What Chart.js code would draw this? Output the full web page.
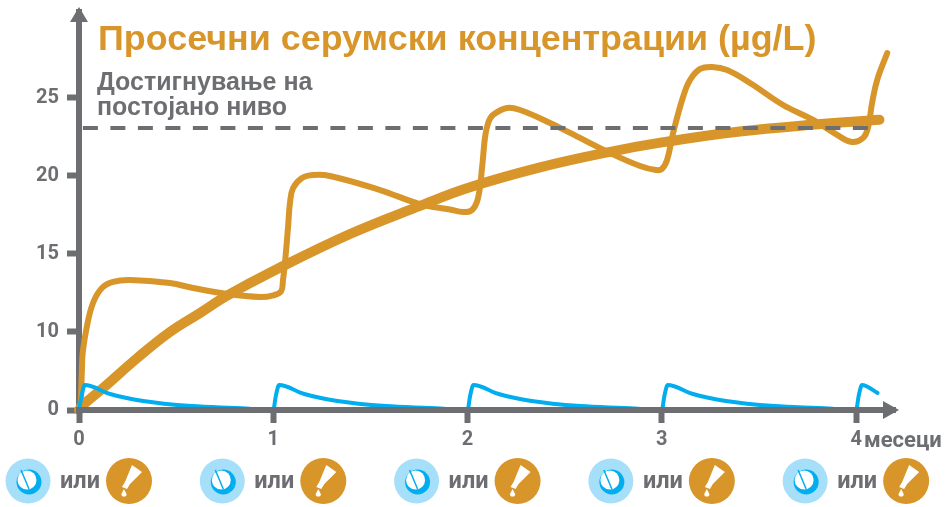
<!DOCTYPE html>
<html>
<head>
<meta charset="utf-8">
<style>
  html, body { margin: 0; padding: 0; background: #fff; }
  #wrap { width: 949px; height: 507px; }
</style>
<script src="https://cdn.jsdelivr.net/npm/chart.js@4"></script>
</head>
<body>
<div id="wrap"><canvas id="chart" width="949" height="507"></canvas></div>
<script>
const titleText = "Просечни серумски концентрации (µg/L)";
const noteLines = ["Достигнување на", "постојано ниво"];
const unitText = "месеци";
const orText = "или";

const monthTicks = [0, 1, 2, 3, 4];
const valueTicks = [0, 10, 15, 20, 25];
const plateau = 23.08;

// thick line, average level
const avgMonths = [0, 0.02, 0.124, 0.3, 0.468, 0.623, 0.76, 1, 1.395, 1.755, 2, 2.373, 2.734, 3, 3.4, 3.79, 4.12];
const avgValues = [0, 0.64, 2.82, 6.67, 10, 11.22, 12.31, 13.91, 16.28, 18.08, 19.23, 20.55, 21.55, 22.15, 22.85, 23.3, 23.6];

// thin orange line
const depotMonths = [0, 0.008, 0.015, 0.019, 0.04, 0.072, 0.118, 0.175, 0.263, 0.468, 0.587, 0.762, 0.932, 1, 1.04, 1.05, 1.06, 1.076, 1.086, 1.102, 1.148, 1.205, 1.292, 1.55, 1.755, 1.91, 1.977, 2.023, 2.054, 2.075, 2.09, 2.106, 2.131, 2.203, 2.27, 2.425, 2.528, 2.734, 2.888, 2.97, 3, 3.027, 3.058, 3.109, 3.145, 3.197, 3.259, 3.336, 3.454, 3.624, 3.779, 3.902, 3.979, 4.036, 4.062, 4.082, 4.108, 4.16];
const depotValues = [0, 0.64, 5.13, 7.31, 10.32, 11.86, 12.82, 13.21, 13.33, 13.14, 12.82, 12.44, 12.24, 12.35, 12.6, 13.33, 14.42, 16.73, 18.27, 19.23, 19.87, 20.06, 20, 19.1, 18.2, 17.85, 17.69, 17.82, 18.59, 20.58, 22.5, 23.4, 23.91, 24.36, 24.23, 23.4, 22.76, 21.47, 20.64, 20.38, 20.45, 21.03, 22.76, 25.06, 26.15, 26.86, 26.99, 26.79, 25.96, 24.55, 23.59, 22.63, 22.18, 22.44, 23.14, 24.68, 26.15, 27.88];

// blue line, one decay per month
const bluePeakMonths = [0, 0.013, 0.03, 0.16, 0.33, 0.58, 0.86, 0.96, 1, 1.013, 1.03, 1.16, 1.33, 1.58, 1.86, 1.96, 2, 2.013, 2.03, 2.16, 2.33, 2.58, 2.86, 2.96, 3, 3.013, 3.03, 3.16, 3.33, 3.58, 3.86, 3.96, 4, 4.013, 4.03, 4.11];
const bluePeakValues = [0, 1.8, 3.2, 2.05, 1.15, 0.5, 0.2, 0, 0, 1.8, 3.2, 2.05, 1.15, 0.5, 0.2, 0, 0, 1.8, 3.2, 2.05, 1.15, 0.5, 0.2, 0, 0, 1.8, 3.2, 2.05, 1.15, 0.5, 0.2, 0, 0, 1.8, 3.2, 2.2];

const plateauMonths = [0.02, 4.12];

const gray = "#6d6e71";
const orange = "#d8962a";
const blue = "#00aeef";
const lightBlue = "#a6dff9";

// the printed axis has 0-10 squeezed into one step, the rest is 5 per step
function toAxis(v) {
  return v <= 10 ? v / 2 : v - 5;
}

function series(months, values) {
  return months.map((m, i) => ({ x: m, y: toAxis(values[i]) }));
}

function drawPill(ctx, cx, cy) {
  ctx.fillStyle = lightBlue;
  ctx.beginPath(); ctx.arc(cx, cy, 22.5, 0, Math.PI * 2); ctx.fill();
  ctx.fillStyle = blue;
  ctx.beginPath(); ctx.arc(cx + 1, cy + 1, 12.5, 0, Math.PI * 2); ctx.fill();
  ctx.fillStyle = "#fff";
  ctx.beginPath(); ctx.arc(cx - 1, cy - 1, 9.5, 0, Math.PI * 2); ctx.fill();
  ctx.strokeStyle = blue;
  ctx.lineWidth = 1.5;
  ctx.beginPath(); ctx.moveTo(cx - 7, cy - 11); ctx.lineTo(cx + 1, cy + 8); ctx.stroke();
}

function drawTube(ctx, cx, cy) {
  ctx.fillStyle = orange;
  ctx.beginPath(); ctx.arc(cx, cy, 23, 0, Math.PI * 2); ctx.fill();
  ctx.fillStyle = "#fff";
  ctx.beginPath();
  ctx.moveTo(cx + 3, cy - 16);
  ctx.lineTo(cx + 13, cy - 9);
  ctx.lineTo(cx + 1, cy + 3);
  ctx.lineTo(cx - 2, cy + 8);
  ctx.lineTo(cx - 7, cy + 6);
  ctx.lineTo(cx - 4, cy + 1);
  ctx.closePath();
  ctx.fill();
  ctx.beginPath();
  ctx.moveTo(cx - 5, cy + 8);
  ctx.lineTo(cx - 2.5, cy + 13);
  ctx.arc(cx - 5, cy + 13, 2.6, 0, Math.PI);
  ctx.closePath();
  ctx.fill();
}

const decorations = {
  id: "decorations",
  afterDraw(chart) {
    const ctx = chart.ctx;
    const x = chart.scales.x;
    const y = chart.scales.y;
    const x0 = x.getPixelForValue(0);
    const y0 = y.getPixelForValue(0);

    ctx.save();
    // axis arrow heads
    ctx.fillStyle = gray;
    ctx.beginPath();
    ctx.moveTo(x0, 7); ctx.lineTo(x0 + 9, 22); ctx.lineTo(x0 - 9, 22);
    ctx.closePath(); ctx.fill();
    ctx.beginPath();
    ctx.moveTo(899, y0); ctx.lineTo(883, y0 - 9); ctx.lineTo(883, y0 + 9);
    ctx.closePath(); ctx.fill();

    ctx.textBaseline = "alphabetic";
    ctx.textAlign = "left";
    ctx.fillStyle = orange;
    ctx.font = "bold 35.9px 'Liberation Sans'";
    ctx.fillText(titleText, 98, 50);

    ctx.fillStyle = gray;
    ctx.font = "bold 25px 'Liberation Sans'";
    ctx.fillText(noteLines[0], 97, 90);
    ctx.fillText(noteLines[1], 97, 115);

    ctx.font = "bold 22px Roboto";
    ctx.fillText(unitText, 864, 447);

    // dose icons under every month
    monthTicks.forEach(m => {
      const px = x.getPixelForValue(m);
      drawPill(ctx, px - 51, 481);
      drawTube(ctx, px + 50, 481);
      ctx.fillStyle = gray;
      ctx.textAlign = "center";
      ctx.font = "bold 23.5px Roboto";
      ctx.fillText(orText, px + 1, 488);
    });
    ctx.restore();
  }
};

new Chart(document.getElementById("chart"), {
  type: "line",
  data: {
    datasets: [
      {
        label: "plateau",
        data: series(plateauMonths, [plateau, plateau]),
        borderColor: gray,
        borderWidth: 4,
        borderDash: [15, 12.5],
        pointRadius: 0,
        clip: false
      },
      {
        label: "blue",
        data: series(bluePeakMonths, bluePeakValues),
        borderColor: blue,
        borderWidth: 4,
        borderCapStyle: "round",
        pointRadius: 0,
        cubicInterpolationMode: "monotone",
        clip: false
      },
      {
        label: "depot",
        data: series(depotMonths, depotValues),
        borderColor: orange,
        borderWidth: 6,
        borderCapStyle: "round",
        pointRadius: 0,
        tension: 0.4,
        clip: false
      },
      {
        label: "average",
        data: series(avgMonths, avgValues),
        borderColor: orange,
        borderWidth: 10,
        borderCapStyle: "round",
        pointRadius: 0,
        tension: 0.4,
        clip: false
      }
    ]
  },
  options: {
    responsive: false,
    animation: false,
    layout: { padding: { top: 12, right: 54, left: 0, bottom: 0 } },
    plugins: { legend: { display: false }, tooltip: { enabled: false } },
    scales: {
      x: {
        type: "linear",
        min: 0,
        max: 4.2,
        afterBuildTicks(scale) { scale.ticks = monthTicks.map(m => ({ value: m })); },
        afterFit(scale) {
          scale.height = 97;
          scale.paddingLeft = 0;
          scale.paddingRight = 0;
        },
        border: { color: gray, width: 6, z: 1 },
        grid: { drawOnChartArea: false, drawTicks: true, tickLength: 13, tickWidth: 6, tickColor: gray, z: 1 },
        ticks: {
          color: gray,
          padding: 5,
          maxRotation: 0,
          font: { family: "Roboto", weight: "bold", size: 20 },
          callback: v => String(v)
        }
      },
      y: {
        type: "linear",
        min: 0,
        max: 25.51,
        afterBuildTicks(scale) { scale.ticks = valueTicks.map(v => ({ value: toAxis(v) })); },
        afterFit(scale) {
          scale.width = 79;
          scale.paddingTop = 0;
          scale.paddingBottom = 0;
        },
        border: { color: gray, width: 6 },
        grid: { drawOnChartArea: false, drawTicks: true, tickLength: 12, tickWidth: 6, tickColor: gray },
        ticks: {
          color: gray,
          padding: 8,
          font: { family: "Roboto", weight: "bold", size: 20 },
          callback: v => String(valueTicks[[0, 5, 10, 15, 20].indexOf(v)])
        }
      }
    }
  },
  plugins: [decorations]
});
</script>
</body>
</html>
